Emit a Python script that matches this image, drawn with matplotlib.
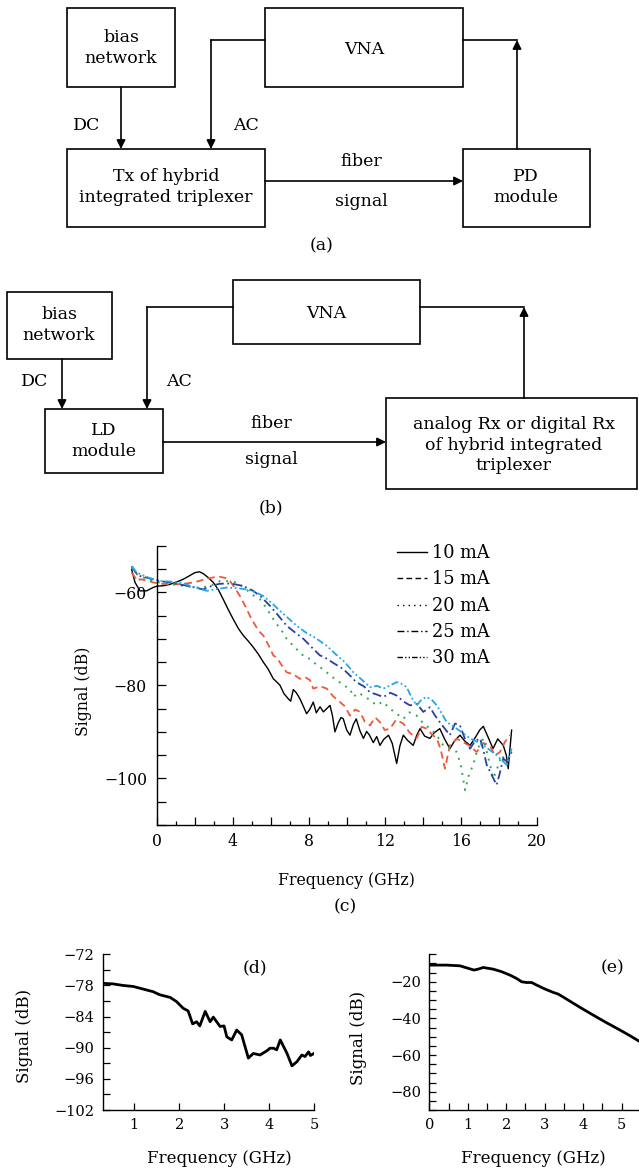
import numpy as np
import matplotlib
matplotlib.use("Agg")
import matplotlib.pyplot as plt
from matplotlib.patches import Rectangle
from matplotlib.lines import Line2D

plt.rcParams['font.family'] = 'DejaVu Serif'

# ---- data ----
# (c) frequency response of the Tx for different bias currents
currents = ['10 mA', '15 mA', '20 mA', '25 mA', '30 mA']

f10 = [-1.32, -1.14, -0.88, -0.53, -0.2, 0.0, 0.35, 0.7, 1.05, 1.4,
       1.75, 2.0, 2.25, 2.45, 2.7, 2.98, 3.25, 3.5, 3.75, 4.03,
       4.3, 4.56, 4.8, 5.08, 5.35, 5.61, 5.85, 6.14, 6.35, 6.49,
       6.7, 6.93, 7.05, 7.19, 7.35, 7.54, 7.75, 7.89, 8.05, 8.24,
       8.4, 8.6, 8.77, 8.95, 9.12, 9.25, 9.38, 9.55, 9.7, 9.82,
       10.0, 10.17, 10.35, 10.5, 10.7, 10.88, 11.05, 11.2, 11.4, 11.58,
       11.75, 11.95, 12.2, 12.4, 12.63, 12.8, 12.98, 13.2, 13.5, 13.7,
       13.86, 14.1, 14.38, 14.6, 14.9, 15.15, 15.43, 15.7, 15.96, 16.2,
       16.49, 16.8, 17.0, 17.19, 17.45, 17.7, 17.95, 18.24, 18.4, 18.5,
       18.68]
s10 = [-55.1, -57.9, -59.7, -59.7, -59.0, -58.7, -58.6, -58.3, -57.8, -57.2,
       -56.4, -55.8, -55.6, -56.0, -56.8, -57.9, -59.5, -61.5, -63.6, -65.8,
       -67.8, -69.3, -70.4, -71.8, -73.3, -75.0, -76.4, -78.6, -79.4, -80.0,
       -81.8, -82.9, -83.4, -80.9, -81.6, -82.9, -84.8, -86.1, -85.2, -83.6,
       -85.9, -84.6, -85.7, -85.0, -84.3, -86.5, -90.0, -88.1, -86.9, -87.2,
       -89.6, -90.7, -88.4, -87.2, -89.8, -91.4, -89.9, -90.7, -92.3, -91.0,
       -92.9, -91.6, -90.7, -92.5, -96.8, -93.0, -90.7, -91.8, -92.9, -90.6,
       -89.3, -90.9, -91.4, -90.2, -89.3, -91.5, -93.6, -91.8, -90.7, -91.9,
       -92.9, -91.0, -89.6, -88.8, -91.2, -93.6, -91.5, -92.9, -95.0, -97.9,
       -89.6]

f15 = [-1.32, -1.0, -0.88, -0.5, -0.18, 0.3, 0.87, 1.4, 1.93, 2.3,
       2.63, 3.0, 3.33, 3.6, 3.86, 4.1, 4.38, 4.65, 4.91, 5.2,
       5.44, 5.61, 5.9, 6.14, 6.31, 6.6, 6.84, 7.19, 7.54, 7.8,
       8.07, 8.24, 8.6, 8.95, 9.3, 9.65, 9.9, 10.17, 10.45, 10.7,
       10.95, 11.23, 11.5, 11.75, 12.0, 12.28, 12.6, 12.98, 13.3, 13.68,
       13.95, 14.2, 14.5, 14.74, 14.95, 15.17, 15.43, 15.8, 16.14, 16.5,
       16.84, 17.2, 17.54, 17.8, 18.07, 18.35, 18.6]
s15 = [-55.8, -57.6, -57.2, -57.5, -57.9, -58.2, -58.3, -58.2, -57.9, -57.5,
       -57.1, -56.8, -56.7, -56.9, -57.6, -59.0, -60.8, -62.9, -65.1, -67.2,
       -68.6, -69.3, -71.5, -73.6, -74.0, -75.8, -77.2, -77.6, -78.6, -78.2,
       -78.9, -80.7, -80.2, -80.7, -82.4, -83.6, -84.5, -86.5, -85.2, -85.7,
       -87.8, -88.6, -86.9, -87.9, -89.6, -89.3, -87.4, -88.2, -90.1, -91.4,
       -88.9, -89.3, -90.6, -91.4, -93.8, -97.9, -92.9, -91.5, -92.2, -93.1,
       -94.3, -92.4, -92.9, -95.1, -94.3, -92.0, -90.7]

f20 = [-1.32, -1.1, -0.88, -0.5, -0.18, 0.3, 0.87, 1.5, 2.1, 2.45,
       2.8, 3.05, 3.33, 3.8, 4.21, 4.55, 4.91, 5.2, 5.44, 5.79,
       6.14, 6.31, 6.6, 6.84, 7.02, 7.3, 7.54, 7.8, 8.07, 8.24,
       8.6, 8.95, 9.12, 9.5, 9.82, 10.17, 10.35, 10.6, 10.88, 11.2,
       11.58, 11.9, 12.28, 12.6, 12.98, 13.3, 13.68, 14.0, 14.38, 14.7,
       15.08, 15.4, 15.79, 16.0, 16.23, 16.45, 16.66, 16.9, 17.19, 17.45,
       17.72, 17.95, 18.16, 18.4, 18.6]
s20 = [-54.7, -56.0, -56.5, -57.2, -57.6, -58.0, -58.3, -58.7, -59.0, -58.9,
       -58.7, -58.2, -57.6, -57.6, -57.9, -58.8, -60.1, -61.0, -61.5, -63.5,
       -65.8, -66.8, -68.4, -70.0, -70.8, -72.0, -72.9, -74.0, -74.3, -75.0,
       -76.1, -77.2, -77.9, -78.9, -80.0, -80.7, -82.5, -81.6, -82.2, -83.1,
       -84.3, -83.5, -85.0, -86.0, -87.2, -85.8, -86.5, -88.0, -89.3, -90.5,
       -92.9, -93.5, -94.3, -97.0, -102.5, -99.0, -97.1, -93.5, -91.4, -95.5,
       -100.0, -97.5, -95.0, -96.5, -97.9]

f25 = [-1.32, -1.1, -0.88, -0.4, 0.17, 0.7, 1.23, 1.8, 2.45, 2.98,
       3.3, 3.68, 4.0, 4.38, 4.75, 5.08, 5.5, 5.96, 6.4, 6.84,
       7.3, 7.72, 8.2, 8.6, 8.77, 9.3, 9.82, 10.2, 10.5, 10.9,
       11.23, 11.6, 11.93, 12.3, 12.63, 13.0, 13.33, 13.7, 14.03, 14.38,
       14.65, 14.9, 15.2, 15.43, 15.7, 15.96, 16.25, 16.49, 16.75, 17.02,
       17.2, 17.37, 17.6, 17.89, 18.05, 18.24, 18.45, 18.68]
s25 = [-54.4, -55.8, -56.5, -57.0, -57.6, -57.9, -58.3, -58.8, -59.4, -58.5,
       -58.2, -58.1, -58.2, -58.5, -59.0, -59.7, -61.0, -62.9, -65.0, -67.2,
       -68.7, -70.0, -72.0, -73.6, -73.8, -75.2, -76.5, -78.0, -79.3, -80.2,
       -81.5, -82.0, -82.5, -81.6, -82.2, -83.5, -84.3, -84.0, -85.7, -84.7,
       -86.5, -87.9, -89.5, -90.7, -88.2, -88.6, -91.8, -93.6, -92.0, -91.4,
       -94.0, -97.1, -99.0, -101.4, -99.0, -95.7, -96.5, -94.3]

f30 = [-1.32, -1.1, -0.88, -0.4, 0.17, 0.7, 1.23, 1.9, 2.63, 3.2,
       3.68, 4.2, 4.74, 5.2, 5.61, 6.05, 6.49, 6.9, 7.37, 7.9,
       8.24, 8.42, 8.95, 9.47, 9.9, 10.35, 10.8, 11.23, 11.6, 11.93,
       12.3, 12.63, 12.9, 13.16, 13.4, 13.68, 13.95, 14.2, 14.5, 14.74,
       15.0, 15.26, 15.5, 15.79, 16.1, 16.49, 16.8, 17.19, 17.5, 17.89,
       18.15, 18.42, 18.68]
s30 = [-54.4, -55.5, -56.1, -56.9, -57.6, -57.7, -57.9, -58.8, -59.7, -59.3,
       -59.0, -59.1, -59.4, -60.0, -60.8, -62.3, -64.0, -65.5, -67.2, -68.8,
       -69.5, -70.0, -71.5, -73.5, -75.0, -77.2, -78.8, -80.4, -80.1, -80.7,
       -80.0, -79.3, -79.7, -80.4, -82.5, -84.3, -83.0, -82.5, -83.2, -84.3,
       -86.0, -87.9, -88.5, -89.3, -90.2, -91.4, -92.0, -92.9, -93.8, -95.0,
       -96.0, -97.1, -93.6]

# (d) analog Rx response
fd = [0.31, 0.53, 0.75, 0.98, 1.2, 1.42, 1.57, 1.8, 1.94, 2.09,
      2.2, 2.3, 2.39, 2.46, 2.58, 2.69, 2.76, 2.91, 3.0, 3.06,
      3.17, 3.28, 3.39, 3.54, 3.65, 3.8, 3.95, 4.02, 4.1, 4.17,
      4.25, 4.4, 4.51, 4.62, 4.73, 4.8, 4.88, 4.92, 5.0]
sd = [-77.6, -77.7, -78.0, -78.2, -78.7, -79.2, -79.8, -80.3, -81.1, -82.4,
      -82.9, -85.4, -85.0, -85.8, -83.0, -85.0, -84.1, -85.9, -85.8, -87.9,
      -88.5, -86.6, -87.5, -92.0, -91.1, -91.4, -90.6, -90.1, -90.1, -90.4,
      -88.5, -91.1, -93.5, -92.7, -91.4, -91.7, -90.8, -91.5, -91.1]

# (e) digital Rx response
fe = [0.0, 0.45, 0.8, 0.97, 1.16, 1.27, 1.4, 1.66, 1.88, 2.1,
      2.27, 2.4, 2.53, 2.66, 2.79, 3.01, 3.22, 3.35, 3.57, 3.92,
      4.26, 4.61, 4.96, 5.22, 5.45]
se = [-10.9, -10.9, -11.3, -12.4, -13.6, -13.1, -12.2, -13.1, -14.5, -16.4,
      -18.2, -20.0, -20.4, -20.4, -21.8, -24.0, -25.8, -26.7, -29.5, -34.0,
      -38.2, -42.4, -46.4, -49.5, -52.4]

W, H = 639, 1171
fig = plt.figure(figsize=(W / 100, H / 100), dpi=100)


def lab(v):
    # tick label with a real minus sign
    return str(v).replace('-', '\u2212')


# ---- block diagrams (a) and (b), drawn in pixel units ----
dg = fig.add_axes([0, 0, 1, 1])
dg.set_xlim(0, W)
dg.set_ylim(H, 0)
dg.axis('off')

LW = 1.2
FS = 12.5


def box(x0, y0, x1, y1):
    dg.add_patch(Rectangle((x0, y0), x1 - x0, y1 - y0, fill=False, lw=LW, ec='black'))


def arrow(x0, y0, x1, y1):
    dg.annotate('', xy=(x1, y1), xytext=(x0, y0),
                arrowprops=dict(arrowstyle='-|>', color='black', lw=LW,
                                mutation_scale=13, shrinkA=0, shrinkB=0))


def txt(x, y, s):
    dg.text(x, y, s, ha='center', va='center', fontsize=FS, linespacing=1.25)


# (a)
box(67, 8, 175, 87)
box(265, 8, 463, 87)
box(67, 149, 265, 227)
box(463, 149, 590, 227)
arrow(121, 87, 121, 149)
dg.plot([265, 211], [40, 40], color='black', lw=LW)
arrow(211, 40, 211, 149)
dg.plot([463, 517], [40, 40], color='black', lw=LW)
arrow(517, 149, 517, 40)
arrow(265, 181, 463, 181)
txt(121, 48, 'bias\nnetwork')
txt(364, 49, 'VNA')
txt(87, 126, 'DC')
txt(246, 126, 'AC')
txt(166, 187, 'Tx of hybrid\nintegrated triplexer')
txt(361, 161, 'fiber')
txt(361, 202, 'signal')
txt(526, 187, 'PD\nmodule')
txt(322, 246, '(a)')

# (b)
box(7, 292, 112, 359)
box(233, 280, 420, 344)
box(45, 409, 163, 473)
box(386, 398, 637, 489)
arrow(62, 359, 62, 409)
dg.plot([233, 147], [307, 307], color='black', lw=LW)
arrow(147, 307, 147, 409)
dg.plot([420, 524], [307, 307], color='black', lw=LW)
arrow(524, 398, 524, 307)
arrow(163, 442, 386, 442)
txt(59, 325, 'bias\nnetwork')
txt(326, 313, 'VNA')
txt(35, 382, 'DC')
txt(179, 382, 'AC')
txt(104, 441, 'LD\nmodule')
txt(271, 423, 'fiber')
txt(271, 460, 'signal')
txt(514, 445, 'analog Rx or digital Rx\nof hybrid integrated\ntriplexer')
txt(271, 508, '(b)')

# ---- panel (c) ----
axc = fig.add_axes([156.7 / W, 1 - 825 / H, 380 / W, 279.3 / H])
colors = ['black', '#ec5a3c', '#2eaa55', '#2b3f9c', '#22a8e6']
styles = ['-', (0, (4, 2.5)), (0, (1, 3)), (0, (5, 2, 1, 2)), (0, (4, 1.5, 1, 1.5, 1, 1.5))]
widths = [1.0, 1.3, 1.4, 1.3, 1.3]
series = [(f10, s10), (f15, s15), (f20, s20), (f25, s25), (f30, s30)]
for (f, s), c, ls, w in zip(series, colors, styles, widths):
    axc.plot(f, s, color=c, ls=ls, lw=w, clip_on=False)

axc.set_xlim(0, 20)
axc.set_ylim(-110, -50)
axc.set_xticks(np.arange(0, 21, 2))
axc.set_xticklabels([str(v) if v % 4 == 0 else '' for v in range(0, 21, 2)])
axc.set_xticks(np.arange(1, 20, 2), minor=True)
yt = np.arange(-110, -49, 5)
axc.set_yticks(yt)
axc.set_yticklabels([lab(v) if v in (-60, -80, -100) else '' for v in yt])
axc.tick_params(which='major', axis='x', direction='in', length=6, width=0.9, pad=6, labelsize=11.3)
axc.tick_params(which='minor', axis='x', direction='in', length=3, width=0.9)
axc.tick_params(axis='y', direction='in', length=6.5, width=0.9, pad=7, labelsize=11.3)
axc.set_xlabel('Frequency (GHz)', fontsize=11.3)
axc.set_ylabel('Signal (dB)', fontsize=11.3)
axc.xaxis.set_label_coords(0.5, -0.167)
axc.yaxis.set_label_coords(-0.17, 0.48)
for sp in ['top', 'right']:
    axc.spines[sp].set_visible(False)
for sp in ['left', 'bottom']:
    axc.spines[sp].set_linewidth(1.0)

handles = [Line2D([], [], color='black', ls=ls, lw=1.0) for ls in styles]
axc.legend(handles, currents, loc='upper left', bbox_to_anchor=(0.632, 1.006),
           frameon=False, fontsize=12.8, handlelength=1.7, handletextpad=0.3,
           labelspacing=0.47, borderpad=0, borderaxespad=0)
fig.text(345 / W, 1 - 907 / H, '(c)', ha='center', va='center', fontsize=FS)

# ---- panel (d) ----
axd = fig.add_axes([102.7 / W, 1 - 1110 / H, 211.3 / W, 155.7 / H])
axd.plot(fd, sd, color='black', lw=2.0)
axd.set_xlim(0.3, 5)
axd.set_ylim(-102, -72)
axd.set_xticks([1, 2, 3, 4, 5])
ytd = np.arange(-102, -71, 3)
axd.set_yticks(ytd)
axd.set_yticklabels([lab(v) if (v + 102) % 6 == 0 else '' for v in ytd])
axd.tick_params(direction='in', length=5, width=0.9, pad=6, labelsize=10.5)
axd.set_xlabel('Frequency (GHz)', fontsize=12)
axd.set_ylabel('Signal (dB)', fontsize=12)
axd.xaxis.set_label_coords(0.55, -0.257)
axd.yaxis.set_label_coords(-0.328, 0.477)
axd.text(255 / W, 1 - 968 / H, '(d)', transform=fig.transFigure, ha='center', va='center', fontsize=FS)

# ---- panel (e) ----
axe = fig.add_axes([429.3 / W, 1 - 1110 / H, (W - 429.3) / W, 155.7 / H])
axe.plot(fe, se, color='black', lw=2.0)
axe.set_xlim(0, 5.45)
axe.set_ylim(-90, -5)
axe.set_xticks([0, 1, 2, 3, 4, 5])
axe.set_xticks(np.arange(0.5, 5.4, 1), minor=True)
yte = np.arange(-90, -4, 5)
axe.set_yticks(yte)
axe.set_yticklabels([lab(v) if v in (-20, -40, -60, -80) else '' for v in yte])
axe.tick_params(which='both', direction='in', length=5, width=0.9, pad=6, labelsize=10.5)
axe.set_xlabel('Frequency (GHz)', fontsize=12)
axe.set_ylabel('Signal (dB)', fontsize=12)
axe.xaxis.set_label_coords(0.494, -0.257)
axe.yaxis.set_label_coords(-0.299, 0.46)
axe.text(612 / W, 1 - 968 / H, '(e)', transform=fig.transFigure, ha='center', va='center', fontsize=FS)

for ax in (axd, axe):
    for sp in ['top', 'right']:
        ax.spines[sp].set_visible(False)
    for sp in ['left', 'bottom']:
        ax.spines[sp].set_linewidth(1.0)

fig.savefig('out.png', dpi=100)
